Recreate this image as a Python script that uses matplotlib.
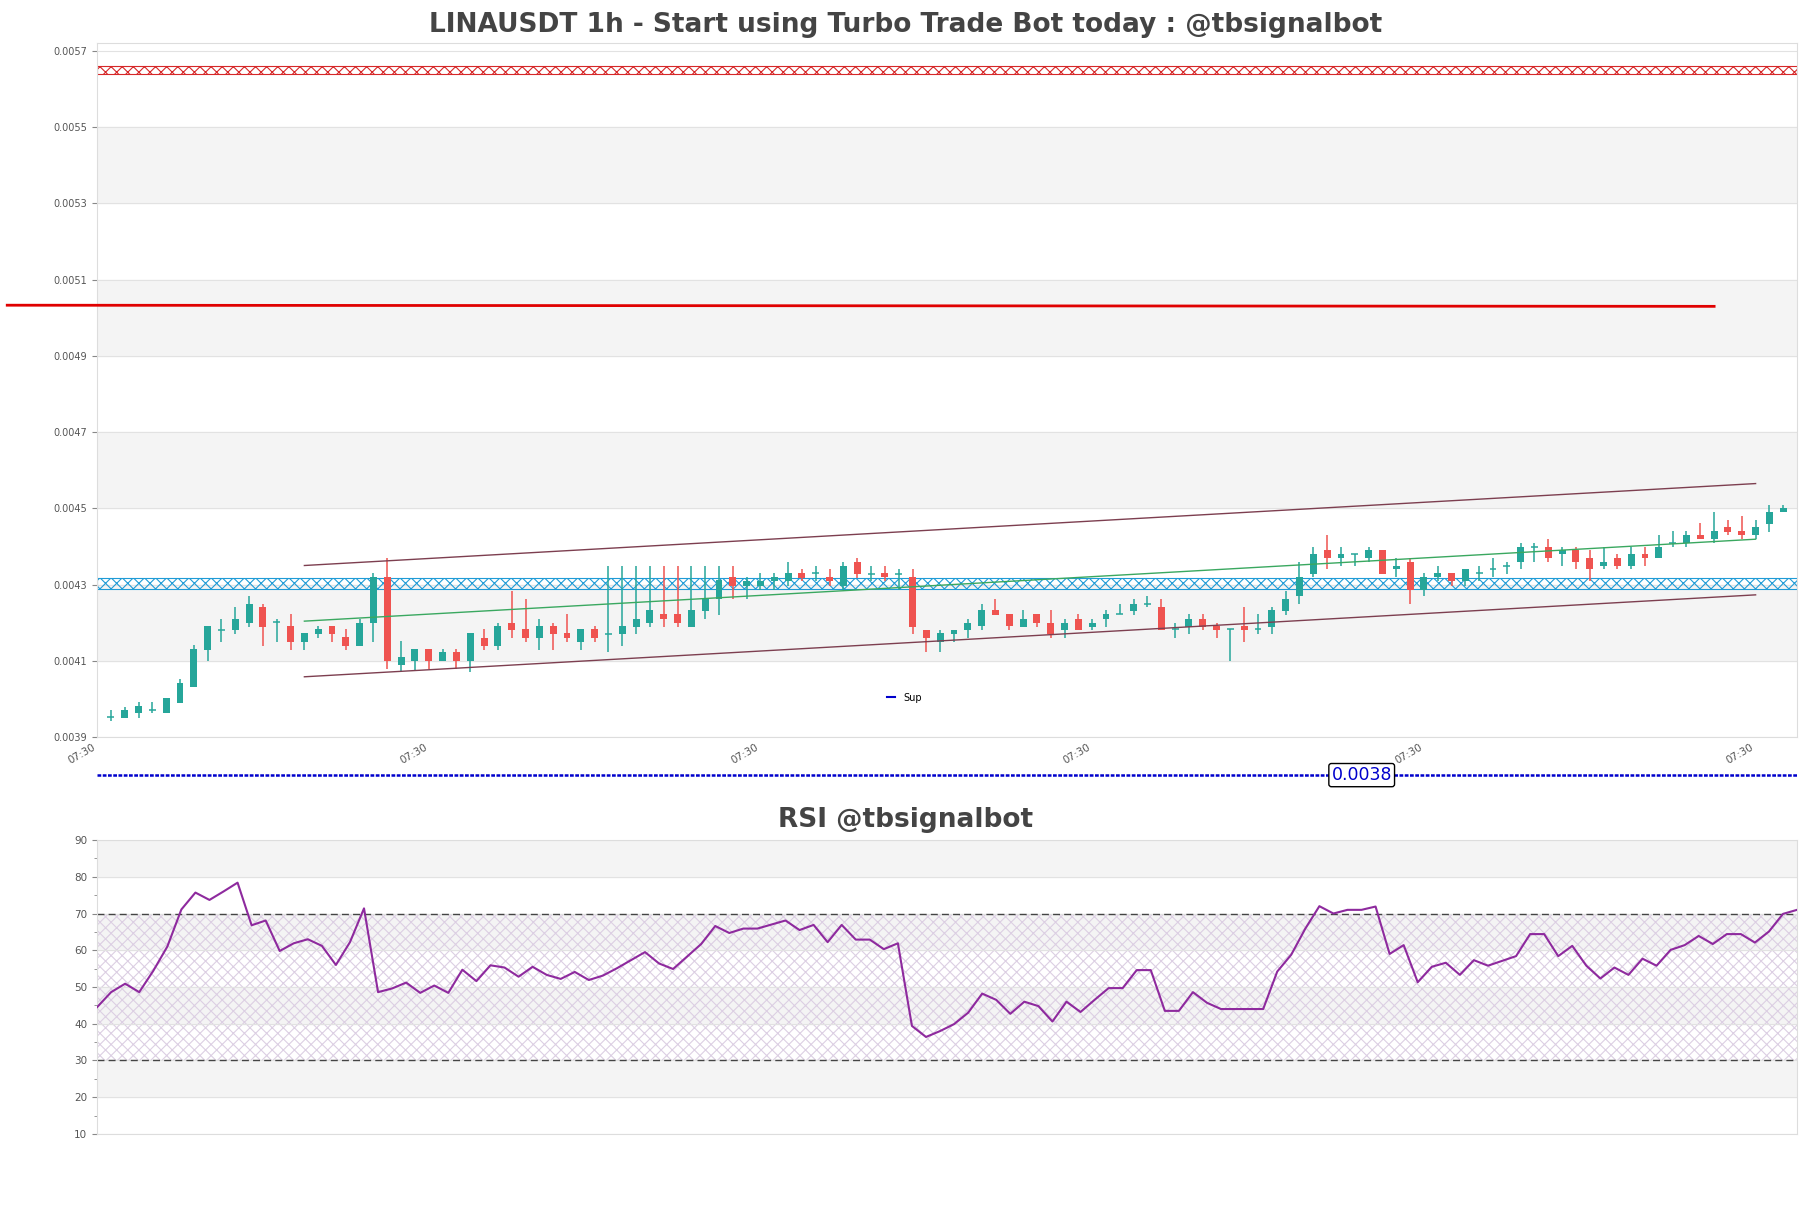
import numpy as np
import matplotlib

matplotlib.use('Agg')

import matplotlib.pyplot as plt
from matplotlib.lines import Line2D

# hourly candles
opens = [0.003952, 0.003951, 0.003962, 0.003971, 0.003962, 0.003990, 0.004030, 0.004129, 0.004181, 0.004181,
         0.004199, 0.004240, 0.004202, 0.004190, 0.004150, 0.004170, 0.004190, 0.004162, 0.004139, 0.004199,
         0.004320, 0.004090, 0.004099, 0.004130, 0.004099, 0.004122, 0.004099, 0.004161, 0.004139, 0.004200,
         0.004183, 0.004160, 0.004190, 0.004172, 0.004150, 0.004183, 0.004171, 0.004170, 0.004189, 0.004199,
         0.004222, 0.004222, 0.004189, 0.004230, 0.004261, 0.004320, 0.004297, 0.004297, 0.004310, 0.004310,
         0.004330, 0.004330, 0.004320, 0.004297, 0.004360, 0.004329, 0.004330, 0.004329, 0.004320, 0.004181,
         0.004150, 0.004170, 0.004181, 0.004190, 0.004232, 0.004222, 0.004189, 0.004222, 0.004200, 0.004181,
         0.004210, 0.004189, 0.004210, 0.004222, 0.004230, 0.004250, 0.004241, 0.004183, 0.004189, 0.004210,
         0.004190, 0.004183, 0.004190, 0.004183, 0.004189, 0.004230, 0.004270, 0.004329, 0.004391, 0.004369,
         0.004381, 0.004369, 0.004391, 0.004341, 0.004360, 0.004287, 0.004320, 0.004330, 0.004310, 0.004330,
         0.004341, 0.004350, 0.004360, 0.004398, 0.004398, 0.004381, 0.004391, 0.004370, 0.004350, 0.004370,
         0.004350, 0.004381, 0.004369, 0.004410, 0.004409, 0.004430, 0.004419, 0.004450, 0.004441, 0.004430,
         0.004459, 0.004490]
closes = [0.003952, 0.003971, 0.003981, 0.003971, 0.004003, 0.004042, 0.004130, 0.004190, 0.004181, 0.004210,
          0.004250, 0.004189, 0.004202, 0.004150, 0.004172, 0.004183, 0.004170, 0.004139, 0.004200, 0.004320,
          0.004099, 0.004111, 0.004130, 0.004099, 0.004122, 0.004099, 0.004172, 0.004139, 0.004190, 0.004181,
          0.004160, 0.004190, 0.004170, 0.004160, 0.004183, 0.004160, 0.004171, 0.004190, 0.004210, 0.004232,
          0.004210, 0.004199, 0.004232, 0.004263, 0.004313, 0.004297, 0.004310, 0.004310, 0.004320, 0.004330,
          0.004318, 0.004330, 0.004310, 0.004350, 0.004329, 0.004329, 0.004320, 0.004329, 0.004189, 0.004160,
          0.004172, 0.004181, 0.004200, 0.004232, 0.004220, 0.004190, 0.004210, 0.004200, 0.004170, 0.004200,
          0.004181, 0.004200, 0.004222, 0.004222, 0.004250, 0.004250, 0.004181, 0.004183, 0.004210, 0.004189,
          0.004181, 0.004183, 0.004181, 0.004183, 0.004232, 0.004261, 0.004320, 0.004381, 0.004369, 0.004381,
          0.004381, 0.004391, 0.004329, 0.004350, 0.004287, 0.004320, 0.004330, 0.004310, 0.004341, 0.004330,
          0.004341, 0.004350, 0.004398, 0.004398, 0.004369, 0.004391, 0.004360, 0.004341, 0.004360, 0.004350,
          0.004381, 0.004369, 0.004398, 0.004410, 0.004430, 0.004419, 0.004441, 0.004439, 0.004430, 0.004450,
          0.004490, 0.004500]
highs = [0.003971, 0.003980, 0.003991, 0.003991, 0.004003, 0.004052, 0.004141, 0.004190, 0.004210, 0.004240,
         0.004271, 0.004250, 0.004210, 0.004222, 0.004172, 0.004191, 0.004190, 0.004183, 0.004210, 0.004330,
         0.004370, 0.004151, 0.004130, 0.004130, 0.004130, 0.004130, 0.004172, 0.004183, 0.004200, 0.004282,
         0.004261, 0.004210, 0.004200, 0.004222, 0.004183, 0.004191, 0.004350, 0.004350, 0.004350, 0.004350,
         0.004350, 0.004350, 0.004350, 0.004350, 0.004350, 0.004350, 0.004320, 0.004330, 0.004330, 0.004360,
         0.004341, 0.004350, 0.004341, 0.004360, 0.004370, 0.004350, 0.004350, 0.004341, 0.004341, 0.004181,
         0.004181, 0.004181, 0.004210, 0.004250, 0.004261, 0.004222, 0.004232, 0.004222, 0.004232, 0.004210,
         0.004222, 0.004210, 0.004232, 0.004250, 0.004261, 0.004271, 0.004261, 0.004200, 0.004222, 0.004222,
         0.004200, 0.004183, 0.004241, 0.004222, 0.004241, 0.004282, 0.004360, 0.004398, 0.004430, 0.004398,
         0.004381, 0.004398, 0.004391, 0.004370, 0.004370, 0.004330, 0.004350, 0.004330, 0.004341, 0.004350,
         0.004370, 0.004360, 0.004409, 0.004409, 0.004419, 0.004398, 0.004398, 0.004391, 0.004398, 0.004381,
         0.004398, 0.004398, 0.004430, 0.004441, 0.004441, 0.004461, 0.004490, 0.004470, 0.004480, 0.004470,
         0.004509, 0.004509]
lows = [0.003941, 0.003951, 0.003951, 0.003962, 0.003962, 0.003990, 0.004030, 0.004099, 0.004150, 0.004170,
        0.004188, 0.004139, 0.004150, 0.004129, 0.004129, 0.004160, 0.004150, 0.004129, 0.004139, 0.004150,
        0.004078, 0.004072, 0.004072, 0.004078, 0.004099, 0.004078, 0.004071, 0.004129, 0.004129, 0.004160,
        0.004150, 0.004129, 0.004129, 0.004150, 0.004129, 0.004150, 0.004122, 0.004139, 0.004170, 0.004189,
        0.004189, 0.004189, 0.004189, 0.004210, 0.004220, 0.004261, 0.004261, 0.004287, 0.004287, 0.004297,
        0.004310, 0.004310, 0.004297, 0.004287, 0.004318, 0.004310, 0.004310, 0.004287, 0.004170, 0.004122,
        0.004122, 0.004150, 0.004160, 0.004181, 0.004220, 0.004181, 0.004189, 0.004189, 0.004160, 0.004160,
        0.004181, 0.004181, 0.004189, 0.004222, 0.004220, 0.004241, 0.004181, 0.004160, 0.004170, 0.004181,
        0.004160, 0.004100, 0.004150, 0.004170, 0.004170, 0.004220, 0.004250, 0.004320, 0.004341, 0.004350,
        0.004350, 0.004360, 0.004329, 0.004320, 0.004250, 0.004270, 0.004310, 0.004297, 0.004297, 0.004310,
        0.004320, 0.004329, 0.004341, 0.004360, 0.004360, 0.004350, 0.004341, 0.004310, 0.004341, 0.004341,
        0.004341, 0.004350, 0.004369, 0.004398, 0.004398, 0.004419, 0.004409, 0.004430, 0.004419, 0.004419,
        0.004439, 0.004490]

rsi = [44.5, 48.6, 50.9, 48.6, 54.4, 61.0, 71.1, 75.7, 73.7, 76.0,
       78.4, 66.8, 68.1, 59.8, 61.9, 63.0, 61.2, 56.0, 62.2, 71.4,
       48.6, 49.6, 51.2, 48.4, 50.4, 48.4, 54.7, 51.6, 55.9, 55.3,
       52.8, 55.5, 53.3, 52.2, 54.1, 51.9, 53.1, 55.1, 57.3, 59.5,
       56.4, 54.9, 58.3, 61.7, 66.6, 64.7, 65.9, 65.9, 67.0, 68.1,
       65.5, 66.9, 62.2, 66.9, 62.9, 62.9, 60.3, 61.9, 39.4, 36.4,
       38.0, 39.9, 43.0, 48.2, 46.5, 42.7, 46.0, 44.8, 40.6, 46.0,
       43.2, 46.5, 49.7, 49.7, 54.6, 54.6, 43.5, 43.5, 48.6, 45.7,
       44.0, 44.0, 44.0, 44.0, 54.2, 58.8, 65.9, 72.0, 70.0, 71.0,
       71.0, 71.9, 59.0, 61.4, 51.3, 55.5, 56.6, 53.3, 57.3, 55.8,
       57.1, 58.4, 64.4, 64.4, 58.4, 61.2, 55.8, 52.3, 55.3, 53.3,
       57.7, 55.8, 60.1, 61.4, 63.9, 61.7, 64.4, 64.4, 62.1, 65.1,
       69.9, 71.0]

tick_pos = [-1, 23, 47, 71, 95, 119]
tick_labels = ['07:30'] * 6

# levels
resistance_zone = (0.00564, 0.00566)
support_zone = (0.004288, 0.004318)
red_line = ((-7.5, 116), (0.005033, 0.00503))
sup_level = 0.0038
channel_x = (14, 119)
channel_mid = (0.004204, 0.004419)
channel_half = 0.000146

GREEN = '#26a69a'
RED = '#ef5350'
TXT = '#555555'

plt.rcParams['hatch.linewidth'] = 0.8

fig = plt.figure(figsize=(18.11, 12.08), dpi=100)
ax = fig.add_axes([0.0536, 0.3899, 0.9387, 0.5745])
ax2 = fig.add_axes([0.0536, 0.0613, 0.9387, 0.2433])

for a in (ax, ax2):
    for s in a.spines.values():
        s.set_color('#dddddd')
    a.tick_params(colors='#888888', labelcolor=TXT, labelsize=7.5)

# --- price chart ---
for lo in (0.0041, 0.0045, 0.0049, 0.0053):
    ax.axhspan(lo, lo + 0.0002, color='#f4f4f4', zorder=0)
ax.set_yticks(np.arange(0.0039, 0.00571, 0.0002))
ax.yaxis.grid(True, color='#e2e2e2', lw=0.8, zorder=0)

x = np.arange(len(opens))
o = np.array(opens)
c = np.array(closes)
colors = [GREEN if cc >= oo else RED for oo, cc in zip(o, c)]
ax.vlines(x, lows, highs, colors=colors, lw=1.1, zorder=3)
body = np.abs(c - o)
ax.bar(x, body, 0.5, bottom=np.minimum(o, c), color=colors, lw=0, zorder=4)
doji = body == 0
ax.hlines(o[doji], x[doji] - 0.25, x[doji] + 0.25, colors=np.array(colors)[doji], lw=1.1, zorder=4)

ax.axhspan(*resistance_zone, facecolor='none', edgecolor='#d62728', hatch='xxx', lw=0.8, zorder=2)
ax.axhspan(*support_zone, facecolor='none', edgecolor='#1f9bd6', hatch='xxx', lw=0.8, zorder=2)

ax.plot(red_line[0], red_line[1], color='#e00000', lw=2, clip_on=False, zorder=5)

cx = np.array(channel_x)
cm = np.array(channel_mid)
ax.plot(cx, cm + channel_half, color='#7d3f50', lw=1, zorder=5)
ax.plot(cx, cm - channel_half, color='#7d3f50', lw=1, zorder=5)
ax.plot(cx, cm, color='#3aa860', lw=1, zorder=5)

ax.axhline(sup_level, color='#0000cc', ls=(0, (1.5, 0.6)), lw=1.8, clip_on=False)
ax.text(90.5, sup_level, '%.4f' % sup_level, color='#0000cc', fontsize=12.5, ha='center', va='center',
        bbox=dict(boxstyle='round,pad=0.15', fc='white', ec='black', lw=1), clip_on=False, zorder=6)
ax.legend([Line2D([0], [0], color='#0000cc', lw=1.5)], ['Sup'], loc='lower center',
          bbox_to_anchor=(0.475, 0.037), frameon=False, fontsize=7, handlelength=0.8)

ax.set_xlim(-1, 122)
ax.set_ylim(0.0039, 0.005721)
ax.set_xticks(tick_pos)
ax.set_xticklabels(tick_labels, rotation=30, ha='right', fontsize=7.5)
ax.tick_params(axis='x', length=0, pad=4)
ax.yaxis.set_major_formatter(matplotlib.ticker.FormatStrFormatter('%.4f'))
ax.tick_params(axis='y', labelsize=7)

fig.text(0.5, 0.979, 'LINAUSDT 1h - Start using Turbo Trade Bot today : @tbsignalbot',
         ha='center', va='center', fontsize=19, fontweight='bold', color='#444444')

# --- RSI ---
xr = np.arange(len(rsi))
for lo in (20, 40, 60, 80):
    ax2.axhspan(lo, lo + 10, color='#f4f4f4', zorder=0)
ax2.fill_between([0, len(rsi) - 1], 30, 70, facecolor='none', edgecolor='#dccfe3', hatch='xxx', lw=0, zorder=1)
ax2.yaxis.grid(True, color='#e2e2e2', lw=0.8, zorder=0)
ax2.axhline(70, color='#444444', ls=(0, (5, 3)), lw=1, zorder=2)
ax2.axhline(30, color='#444444', ls=(0, (5, 3)), lw=1, zorder=2)
ax2.plot(xr, rsi, color='#8e2a9e', lw=1.5, zorder=3)
ax2.set_xlim(0, len(rsi) - 1)
ax2.set_ylim(10, 90)
ax2.set_yticks(range(10, 91, 10))
ax2.set_yticks(range(15, 90, 10), minor=True)
ax2.tick_params(axis='y', which='minor', colors='#888888', length=2)
ax2.set_xticks([])
fig.text(0.5, 0.321, 'RSI @tbsignalbot', ha='center', va='center',
         fontsize=19, fontweight='bold', color='#444444')

fig.savefig('out.png', dpi=100)
